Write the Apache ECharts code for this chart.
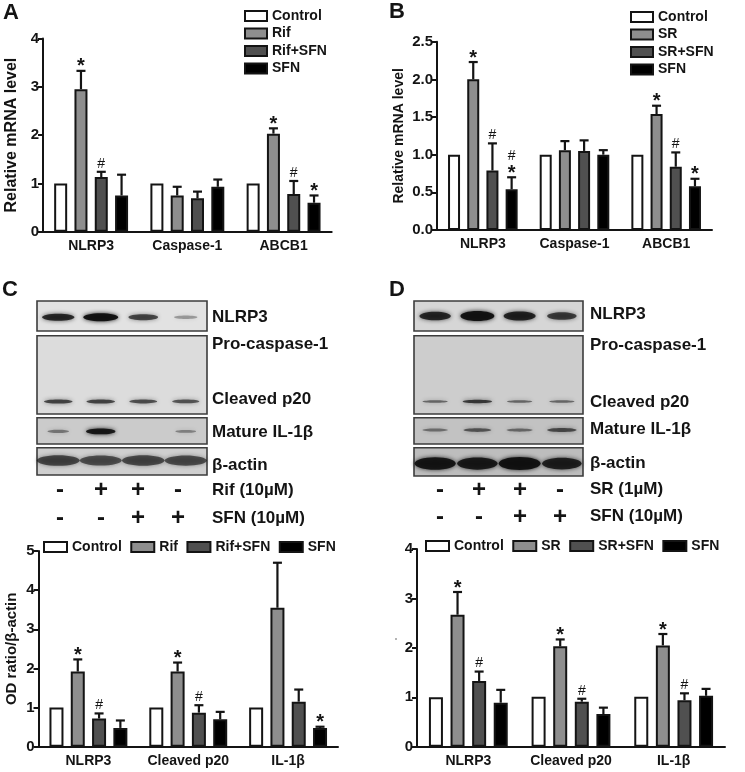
<!DOCTYPE html>
<html><head><meta charset="utf-8">
<script src="https://cdn.jsdelivr.net/npm/echarts@6/dist/echarts.min.js"></script>
<style>html,body{margin:0;padding:0;background:#fff}#c{width:745px;height:772px;filter:blur(0.45px)}</style>
</head><body><div id="c"></div>
<script>
// ---------- chart data ----------
const catsMrna = ['NLRP3','Caspase-1','ABCB1'];
const catsProtein = ['NLRP3','Cleaved p20','IL-1β'];
const namesRif = ['Control','Rif','Rif+SFN','SFN'];
const namesSR = ['Control','SR','SR+SFN','SFN'];

const ticksA = [0,1,2,3,4];
const ticksB = [0,0.5,1,1.5,2,2.5];
const ticksC = [0,1,2,3,4,5];
const ticksD = [0,1,2,3,4];

const meanA = [[1,1,1],[2.95,0.75,2.03],[1.13,0.69,0.78],[0.75,0.93,0.6]];
const topA  = [null,[3.33,0.93,2.14],[1.24,0.83,1.05],[1.18,1.08,0.75]];
const sigA  = [null,['*','','*'],['#','','#'],['','','*']];

const meanB = [[1,1,1],[2.0,1.06,1.54],[0.79,1.05,0.84],[0.54,1.0,0.58]];
const topB  = [null,[2.23,1.18,1.65],[1.15,1.19,1.03],[0.70,1.06,0.68]];
const sigB  = [null,['*','','*'],['#','','#'],['*#','','*']];

const meanC = [[1,1,1],[1.92,1.92,3.55],[0.72,0.87,1.15],[0.48,0.70,0.48]];
const topC  = [null,[2.23,2.15,4.7],[0.85,1.06,1.46],[0.67,0.89,0.51]];
const sigC  = [null,['*','*',''],['#','#',''],['','','*']];

const meanD = [[1,1.01,1.01],[2.67,2.03,2.05],[1.33,0.91,0.94],[0.89,0.66,1.03]];
const topD  = [null,[3.13,2.17,2.28],[1.52,0.97,1.08],[1.15,0.79,1.17]];
const sigD  = [null,['*','*','*'],['#','#','#'],['','','']];

// blot band intensity per lane (0..1)
const lanes = ['1','2','3','4'];
const blotC_NLRP3 = [0.8,1,0.6,0.12];
const blotC_p20   = [0.72,0.72,0.65,0.6];
const blotC_IL1   = [0.25,0.95,0,0.18];
const blotC_actin = [0.72,0.66,0.7,0.68];
const blotD_NLRP3 = [0.8,1,0.85,0.65];
const blotD_p20   = [0.45,0.8,0.45,0.45];
const blotD_IL1   = [0.4,0.6,0.45,0.7];
const blotD_actin = [0.95,0.9,1,0.85];

const plusRif = ['-','+','+','-'];
const plusSR  = ['-','+','+','-'];
const plusSFN = ['-','-','+','+'];

// ---------- styles / layout ----------
const FONT = '"Liberation Sans", Arial, sans-serif';
const fills = ['#ffffff','#8e8e8e','#505050','#000000'];
const INK = '#141414';

const panels = [
 {names:namesRif,cats:catsMrna,mean:meanA,top:topA,sig:sigA,ticks:ticksA,l:43,r:331.7,t:38.5,b:231.7,bw:13,pitch:20.3,yName:'Relative mRNA level',yNameSize:16,yGap:23,
  legend:{left:244,top:9,orient:'vertical',itemGap:3.5,itemWidth:22,itemHeight:10}},
 {names:namesSR,cats:catsMrna,mean:meanB,top:topB,sig:sigB,ticks:ticksB,l:437,r:712,t:41.7,b:230,bw:12,pitch:19.2,yName:'Relative mRNA level',yNameSize:14,yGap:31,fmt:v=>v.toFixed(1),
  legend:{left:630,top:10,orient:'vertical',itemGap:3.5,itemWidth:22,itemHeight:10}},
 {names:namesRif,cats:catsProtein,mean:meanC,top:topC,sig:sigC,ticks:ticksC,l:38.5,r:338,t:551,b:746.7,bw:14,pitch:21.3,yName:'OD ratio/β-actin',yNameSize:15,yGap:19,
  legend:{left:43,top:540,orient:'horizontal',itemGap:8.5,itemWidth:23,itemHeight:10}},
 {names:namesSR,cats:catsProtein,mean:meanD,top:topD,sig:sigD,ticks:ticksD,l:417,r:725,t:549,b:746.7,bw:14,pitch:21.6,yName:'',yNameSize:15,yGap:20,
  legend:{left:425,top:539,orient:'horizontal',itemGap:8.5,itemWidth:23,itemHeight:10}}
];

// per strip: frame and band look
const strips = [
 {v:blotC_NLRP3,l:37,r:207,t:301,b:331,bg:'#e2e2e2',y:.54,w:35,h:8,k:.95},
 {v:blotC_p20,l:37,r:207,t:335.7,b:414,bg:'#dcdcdc',y:.84,w:32,h:5,k:.85},
 {v:blotC_IL1,l:37,r:207,t:417.7,b:444,bg:'#cbcbcb',y:.52,w:30,h:6,k:.95},
 {v:blotC_actin,l:37,r:207,t:447.7,b:475,bg:'#cfcfcf',y:.47,w:48,h:13,k:.8},
 {v:blotD_NLRP3,l:414,r:583,t:301,b:331,bg:'#d6d6d6',y:.5,w:34,h:10,k:.95},
 {v:blotD_p20,l:414,r:583,t:335.7,b:414,bg:'#cdcdcd',y:.84,w:32,h:4,k:.85},
 {v:blotD_IL1,l:414,r:583,t:417.7,b:444,bg:'#c2c2c2',y:.47,w:33,h:5,k:.8},
 {v:blotD_actin,l:414,r:583,t:447.7,b:476,bg:'#bdbdbd',y:.56,w:42,h:13,k:.95}
];

const labelText = (text,x,y,size,extra)=>({type:'text',x,y,silent:true,style:Object.assign({text,fontFamily:FONT,fontWeight:'bold',fontSize:size,fill:INK,verticalAlign:'middle',align:'left'},extra||{})});

const graphics = [
 labelText('A',3,13,22), labelText('B',389,12,22), labelText('C',2,290,22), labelText('D',389,290,22),
 labelText('NLRP3',212,317.7,17), labelText('Pro-caspase-1',212,344,17), labelText('Cleaved p20',212,399.3,17), labelText('Mature IL-1β',212,432.7,17), labelText('β-actin',212,465,17),
 labelText('Rif (10µM)',212,490,17), labelText('SFN (10µM)',212,518,17),
 labelText('NLRP3',590,314,17), labelText('Pro-caspase-1',590,345.3,17), labelText('Cleaved p20',590,402.7,17), labelText('Mature IL-1β',590,429.3,17), labelText('β-actin',590,463.3,17),
 labelText('SR (1µM)',590,489.3,17), labelText('SFN (10µM)',590,516.7,17),
 {type:'circle',shape:{cx:396,cy:639,r:0.8},style:{fill:'#555'},silent:true}
];
const signX = {C:[60,101,138,178],D:[440,479,520,560]};
[['C',plusRif,490],['C',plusSFN,518],['D',plusSR,490],['D',plusSFN,517]].forEach(([k,arr,y])=>{
  arr.forEach((s,i)=>graphics.push(labelText(s,signX[k][i],y,24,{align:'center'})));
});

// ---------- build option ----------
const grid=[],xAxis=[],yAxis=[],series=[],legend=[];
panels.forEach((p,pi)=>{
  grid.push({left:p.l,top:p.t,width:p.r-p.l,height:p.b-p.t});
  xAxis.push({type:'category',gridIndex:pi,data:p.cats,boundaryGap:true,
    axisLine:{lineStyle:{color:INK,width:2}},axisTick:{alignWithLabel:true,length:3,lineStyle:{color:INK,width:2}},
    axisLabel:{color:INK,fontFamily:FONT,fontWeight:'bold',fontSize:14,margin:7,interval:0},splitLine:{show:false}});
  const tk=p.ticks;
  yAxis.push({type:'value',gridIndex:pi,min:tk[0],max:tk[tk.length-1],interval:tk[1]-tk[0],
    name:p.yName,nameLocation:'middle',nameGap:p.yGap,nameTextStyle:{color:INK,fontFamily:FONT,fontWeight:'bold',fontSize:p.yNameSize},
    axisLine:{show:true,lineStyle:{color:INK,width:2}},axisTick:{show:true,length:5,lineStyle:{color:INK,width:2}},
    axisLabel:{color:INK,fontFamily:FONT,fontWeight:'bold',fontSize:15,margin:4,formatter:p.fmt||(v=>String(v))},splitLine:{show:false}});
  legend.push(Object.assign({data:p.names,padding:0,icon:'rect',selectedMode:false,textStyle:{color:INK,fontFamily:FONT,fontWeight:'bold',fontSize:14},
    itemStyle:{borderColor:INK,borderWidth:2}},p.legend,{itemGap:p.legend.itemGap}));
  p.names.forEach((n,si)=>{
    series.push({type:'bar',name:n,xAxisIndex:pi,yAxisIndex:pi,data:p.mean[si],barWidth:p.bw,barGap:((p.pitch-p.bw)/p.bw*100)+'%',
      itemStyle:{color:fills[si],borderColor:INK,borderWidth:2},z:2});
    if(!p.top[si]) return;
    const off=(si-1.5)*p.pitch;
    series.push({type:'custom',xAxisIndex:pi,yAxisIndex:pi,z:3,clip:false,encode:{x:0,y:1},
      data:p.top[si].map((t,i)=>[i,t,p.mean[si][i]]),
      renderItem:(params,api)=>{
        const i=api.value(0);
        const x=api.coord([i,0])[0]+off;
        const yt=api.coord([i,api.value(1)])[1];
        const ym=api.coord([i,api.value(2)])[1];
        const st={stroke:INK,lineWidth:2.2};
        const kids=[
          {type:'line',shape:{x1:x,y1:ym,x2:x,y2:yt},style:st},
          {type:'line',shape:{x1:x-4.5,y1:yt,x2:x+4.5,y2:yt},style:st}
        ];
        Array.from(p.sig[si][i]).forEach((g,k)=>{
          const star=g==='*';
          kids.push({type:'text',style:{text:g,x:x,y:yt-8-k*13+(star?4:0),align:'center',verticalAlign:'middle',
            fontFamily:FONT,fontWeight:star?'bold':'normal',fontSize:star?20:14,fill:INK}});
        });
        return {type:'group',children:kids};
      }});
  });
});

strips.forEach((s)=>{
  const gi=grid.length;
  grid.push({show:true,left:s.l,top:s.t,width:s.r-s.l,height:s.b-s.t,backgroundColor:s.bg,borderColor:'#3c3c3c',borderWidth:1.6});
  xAxis.push({type:'category',gridIndex:gi,data:lanes,show:false});
  yAxis.push({type:'value',gridIndex:gi,min:0,max:1,show:false});
  series.push({type:'custom',xAxisIndex:gi,yAxisIndex:gi,z:3,encode:{x:0,y:1},
    data:s.v.map((d,i)=>[i,1-s.y,d]),
    renderItem:(params,api)=>{
      const d=api.value(2);
      if(d<=0) return null;
      const c=api.coord([api.value(0),api.value(1)]);
      const col='rgba(15,15,15,'+Math.min(1,(0.25+0.75*d)*s.k)+')';
      return {type:'ellipse',shape:{cx:c[0],cy:c[1],rx:s.w*(0.62+0.38*d)/2,ry:s.h*(0.35+0.65*d)/2},
        style:{fill:col,shadowBlur:4,shadowColor:col}};
    }});
});

const chart=echarts.init(document.getElementById('c'));
chart.setOption({animation:false,backgroundColor:'#fff',grid,xAxis,yAxis,series,legend,graphic:{elements:graphics},tooltip:{show:false}});
</script></body></html>
